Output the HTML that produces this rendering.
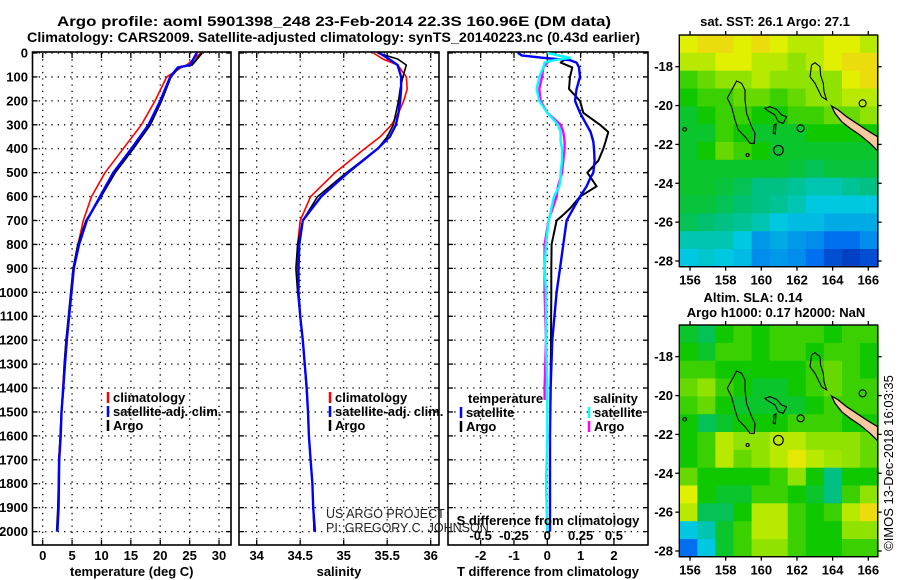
<!DOCTYPE html>
<html><head><meta charset="utf-8">
<style>
html,body{margin:0;padding:0;background:#fff;}
svg{display:block;font-family:"Liberation Sans",sans-serif;}
</style></head>
<body>
<svg id="fig" width="900" height="580" viewBox="0 0 900 580" xmlns="http://www.w3.org/2000/svg"></svg>
<script>
// ---------- data ----------
const depthTicks=[0,100,200,300,400,500,600,700,800,900,1000,1100,1200,1300,1400,1500,1600,1700,1800,1900,2000];
const tempTicks=[0,5,10,15,20,25,30];
const salTicks=[34,34.5,35,35.5,36];
const tdiffTicks=[-2,-1,0,1,2];
const sdiffTicks=[-0.5,-0.25,0,0.25,0.5];
const sdiffTickLabels=["-0.5","-0.25","0","0.25","0.5"];

const tDepth=[0,50,60,100,200,300,400,500,600,700,800,900,1000,1100,1200,1300,1400,1500,1600,1700,1800,1900,2000];
const tClim=[26.9,24.5,23.6,21.1,19.1,16.8,13.7,10.6,8.3,6.9,6.0,5.2,4.8,4.4,4.0,3.7,3.4,3.2,3.0,2.7,2.7,2.6,2.5];
const tSat=[26.2,25.1,23.0,21.7,20.0,18.0,15.1,12.0,9.75,7.5,6.2,5.3,4.9,4.5,4.1,3.8,3.5,3.2,3.06,2.8,2.75,2.7,2.5];
const tArgo=[27.1,25.4,23.2,21.8,20.2,18.3,15.4,12.3,9.9,7.4,6.0,5.2,4.8,4.4,4.0,3.7,3.5,3.2,3.0,2.8,2.7,2.6,2.4];

const sDepth=[0,25,50,100,150,200,250,300,350,400,500,600,700,800,900,1000,1100,1200,1400,1500,1600,1700,1800,1900,2000];
const sClim=[35.34,35.45,35.62,35.72,35.73,35.69,35.63,35.55,35.42,35.24,34.90,34.62,34.50,34.47,34.47,34.48,34.50,34.53,34.575,34.59,34.60,34.62,34.64,34.65,34.66];
const sSat=[35.41,35.52,35.62,35.66,35.66,35.65,35.63,35.60,35.53,35.39,35.05,34.74,34.53,34.49,34.48,34.48,34.50,34.53,34.575,34.59,34.60,34.62,34.64,34.65,34.67];
const sArgo=[35.39,35.62,35.72,35.68,35.65,35.63,35.60,35.57,35.50,35.39,35.03,34.70,34.53,34.47,34.45,34.47,34.50,34.53,34.57,34.59,34.60,34.62,34.64,34.65,34.66];

const dDepth=[0,10,20,30,40,60,100,150,200,250,300,330,370,400,450,500,520,557,600,650,680,700,800,900,1000,1200,1400,1600,1800,2000];
const tdSat=[-0.87,-0.77,-0.13,0.68,0.88,0.95,0.98,0.88,0.83,0.98,1.18,1.30,1.38,1.40,1.42,1.38,1.30,1.18,0.98,0.78,0.66,0.58,0.48,0.38,0.28,0.15,0.10,0.08,0.08,0.08];
const sdSat=[0.00,0.08,0.17,0.05,-0.02,-0.03,-0.06,-0.08,-0.06,0.00,0.08,0.10,0.10,0.11,0.11,0.10,0.10,0.09,0.05,0.03,0.02,0.01,-0.01,-0.02,-0.01,-0.01,0.00,0.00,-0.01,0.00];
const dDepthArgo=[30,40,60,100,150,200,250,300,330,370,400,450,500,520,557,600,650,680,700,800,900,1000,1200,1400,1450];
const tdArgo=[0.50,0.40,0.75,0.68,0.65,0.98,1.08,1.58,1.83,1.75,1.68,1.53,1.20,1.30,1.48,0.98,0.68,0.45,0.28,0.13,0.12,0.12,0.11,0.10,0.10];
const sdArgo=[0.03,0.00,-0.03,-0.04,-0.06,-0.05,0.00,0.10,0.12,0.13,0.13,0.12,0.11,0.10,0.08,0.07,0.04,0.02,0.01,-0.02,-0.02,-0.02,-0.01,-0.02,-0.02];

const latTicks=[-18,-20,-22,-24,-26,-28];
const lonTicks=[156,158,160,162,164,166];
const sstGrid=[
[0.80,0.85,0.85,0.80,0.85,0.80,0.75,0.75,0.80,0.80,0.75],
[0.75,0.75,0.80,0.80,0.75,0.75,0.70,0.75,0.80,0.85,0.85],
[0.60,0.65,0.70,0.70,0.75,0.70,0.70,0.70,0.70,0.80,0.85],
[0.55,0.60,0.60,0.65,0.65,0.60,0.65,0.70,0.70,0.75,0.75],
[0.50,0.55,0.60,0.60,0.55,0.55,0.60,0.60,0.65,0.65,0.70],
[0.50,0.50,0.60,0.55,0.50,0.50,0.50,0.55,0.55,0.55,0.55],
[0.50,0.55,0.65,0.60,0.55,0.50,0.50,0.50,0.50,0.50,0.50],
[0.50,0.50,0.50,0.50,0.50,0.50,0.48,0.45,0.48,0.48,0.48],
[0.50,0.50,0.48,0.45,0.40,0.40,0.38,0.35,0.35,0.38,0.40],
[0.48,0.48,0.45,0.42,0.40,0.38,0.35,0.30,0.30,0.30,0.30],
[0.45,0.42,0.40,0.38,0.35,0.30,0.28,0.28,0.25,0.25,0.25],
[0.35,0.35,0.35,0.30,0.22,0.25,0.22,0.20,0.15,0.15,0.20],
[0.30,0.32,0.30,0.28,0.20,0.22,0.20,0.15,0.08,0.05,0.08]];
const slaGrid=[
[0.50,0.45,0.55,0.60,0.55,0.60,0.60,0.60,0.55,0.60,0.60],
[0.55,0.50,0.60,0.60,0.55,0.60,0.60,0.55,0.60,0.60,0.55],
[0.60,0.60,0.55,0.55,0.55,0.55,0.55,0.60,0.65,0.60,0.55],
[0.65,0.70,0.60,0.55,0.50,0.50,0.55,0.60,0.65,0.60,0.60],
[0.60,0.65,0.55,0.50,0.50,0.50,0.50,0.55,0.60,0.60,0.60],
[0.55,0.45,0.50,0.55,0.55,0.55,0.60,0.60,0.60,0.55,0.55],
[0.55,0.60,0.75,0.70,0.70,0.75,0.75,0.70,0.70,0.70,0.65],
[0.55,0.60,0.75,0.65,0.70,0.75,0.82,0.75,0.72,0.70,0.65],
[0.65,0.55,0.55,0.55,0.55,0.60,0.70,0.55,0.40,0.55,0.55],
[0.80,0.55,0.50,0.50,0.60,0.60,0.55,0.50,0.40,0.60,0.70],
[0.75,0.45,0.45,0.55,0.75,0.75,0.60,0.55,0.60,0.75,0.85],
[0.30,0.35,0.50,0.60,0.75,0.75,0.60,0.55,0.55,0.70,0.70],
[0.15,0.30,0.50,0.60,0.70,0.70,0.60,0.55,0.55,0.60,0.60]];

// ---------- helpers ----------
const NS="http://www.w3.org/2000/svg";
const svg=document.getElementById('fig');
function mk(tag,attrs,parent){const e=document.createElementNS(NS,tag);for(const k in attrs)e.setAttribute(k,attrs[k]);(parent||svg).appendChild(e);return e;}
function txt(s,x,y,opts,parent){const t=mk('text',Object.assign({x:x,y:y,'font-size':13,'font-weight':'bold',fill:'#000'},opts||{}),parent);t.textContent=s;return t;}

const PT=53, PB=545, Y0=53, YS=0.2393;
const yD=d=>Y0+d*YS;
const P1={l:32.5,r:231}, P2={l:239,r:439}, P3={l:448,r:648};
const xT=v=>42.7+v*5.877;
const xS=v=>256.7+(v-34)*87;
const xTD=v=>547.3+v*33.33;
const xSD=v=>547.3+v*133.33;

// ---------- titles ----------
let t1=txt("Argo profile: aoml 5901398_248 23-Feb-2014 22.3S 160.96E (DM data)",57,26,{'font-size':14,textLength:554,lengthAdjust:'spacingAndGlyphs'});


let t2=txt("Climatology: CARS2009. Satellite-adjusted climatology: synTS_20140223.nc (0.43d earlier)",27,42,{'font-size':14,textLength:613,lengthAdjust:'spacingAndGlyphs'});



// ---------- panels ----------
function panel(P,name,xticks,xf,xlabels,xtitle,showYLabels){
  const g=mk('g',{});
  
  
  depthTicks.forEach(d=>{
    const y=yD(d);
    mk('line',{x1:P.l,x2:P.r,y1:y,y2:y,stroke:'#000','stroke-width':1.3,'stroke-dasharray':'1.3 5'},g);
    mk('line',{x1:P.l,x2:P.l+5,y1:y,y2:y,stroke:'#000','stroke-width':1.3},g);
    mk('line',{x1:P.r-5,x2:P.r,y1:y,y2:y,stroke:'#000','stroke-width':1.3},g);
    if(showYLabels){const lb=txt(String(d),28,y+4.5,{'text-anchor':'end'},g);
      
      }
  });
  xticks.forEach((v,i)=>{
    const x=xf(v);
    mk('line',{x1:x,x2:x,y1:PT,y2:PB,stroke:'#000','stroke-width':1.3,'stroke-dasharray':'1.3 5'},g);
    mk('line',{x1:x,x2:x,y1:PT,y2:PT+5,stroke:'#000','stroke-width':1.3},g);
    mk('line',{x1:x,x2:x,y1:PB-5,y2:PB,stroke:'#000','stroke-width':1.3},g);
    const lb=txt(xlabels[i],x,560,{'text-anchor':'middle'},g);
    
    
  });
  mk('rect',{x:P.l,y:PT-1,width:P.r-P.l,height:PB-PT+1,fill:'none',stroke:'#000','stroke-width':1.6},g);
  const at=txt(xtitle,(P.l+P.r)/2,576,{'text-anchor':'middle'},g);
  
  
  return g;
}
panel(P1,'temperature-panel',tempTicks,xT,tempTicks.map(String),'temperature (deg C)',true);
panel(P2,'salinity-panel',salTicks,xS,salTicks.map(String),'salinity',false);
panel(P3,'difference-panel',tdiffTicks,xTD,tdiffTicks.map(String),'T difference from climatology',false);

function line(xs,ds,xf,color,w,name){
  const pts=xs.map((v,i)=>xf(v).toFixed(1)+','+yD(ds[i]).toFixed(1)).join(' ');
  const p=mk('polyline',{points:pts,fill:'none',stroke:color,'stroke-width':w,'stroke-linejoin':'round'});
  
  
}
line(tClim,tDepth,xT,'#f00',1.6,'temp-climatology-line');
line(tArgo,tDepth,xT,'#000',2,'temp-argo-line');
line(tSat,tDepth,xT,'#00f',2.4,'temp-satellite-line');
line(sClim,sDepth,xS,'#f00',1.6,'sal-climatology-line');
line(sArgo,sDepth,xS,'#000',1.6,'sal-argo-line');
line(sSat,sDepth,xS,'#00f',2.4,'sal-satellite-line');
line(tdArgo,dDepthArgo,xTD,'#000',2,'tdiff-argo-line');
line(tdSat,dDepth,xTD,'#00f',2.4,'tdiff-satellite-line');
line(sdArgo,dDepthArgo,xSD,'#f0f',2.4,'sdiff-argo-line');
line(sdSat,dDepth,xSD,'#0ff',2.4,'sdiff-satellite-line');

// S diff labels inside panel 3
let sdt=txt("S difference from climatology",548,525,{'text-anchor':'middle'});


sdiffTicks.forEach((v,i)=>{const l=txt(sdiffTickLabels[i],xSD(v),540,{'text-anchor':'middle'});
  
  });

// legends
function legend(x,y,items,name){
  const g=mk('g',{});
  
  
  items.forEach((it,i)=>{
    const yy=y+i*14;
    mk('line',{x1:x,x2:x,y1:yy-10,y2:yy+1,stroke:it[1],'stroke-width':2.5},g);
    txt(it[0],x+5,yy,{},g);
  });
}
legend(108,402,[['climatology','#f00'],['satellite-adj. clim.','#00f'],['Argo','#000']],'temp-legend');
legend(330,402,[['climatology','#f00'],['satellite-adj. clim.','#00f'],['Argo','#000']],'sal-legend');
let lt=txt("temperature",468,403);
let ls=txt("salinity",593,403);
legend(461,417,[['satellite','#00f'],['Argo','#000']],'diff-legend-temperature');
legend(589,417,[['satellite','#0ff'],['Argo','#f0f']],'diff-legend-salinity');

let pr1=txt("US ARGO PROJECT",326,518,{'font-weight':'normal','font-size':12.5,fill:'#222'});

let pr2=txt("PI: GREGORY C. JOHNSON",326,532,{'font-weight':'normal','font-size':12.5,fill:'#222'});


// ---------- maps ----------
const cstops=[[0,[0,40,176]],[0.15,[0,112,240]],[0.3,[0,200,224]],[0.42,[0,192,112]],[0.55,[16,200,0]],[0.68,[128,224,0]],[0.8,[224,240,0]],[0.92,[248,192,32]],[1,[240,144,0]]];
function cmap(v){for(let i=1;i<cstops.length;i++){if(v<=cstops[i][0]){const a=cstops[i-1],b=cstops[i],f=(v-a[0])/(b[0]-a[0]);return 'rgb('+a[1].map((c,k)=>Math.round(c+(b[1][k]-c)*f)).join(',')+')';}}return 'rgb(240,144,0)';}
function drawMap(top,grid,name){
  const L=679.3,R=877.7,T=top,B=top+231.7;
  const lonX=v=>690+(v-156)*17.83;
  const latY=v=>top+31.7+(-18-v)*19.43;
  const g=mk('g',{});
  
  
  const rows=grid.length,cols=grid[0].length;
  const lon0=155.4,lon1=166.55,lat0=-16.37,lat1=-28.3;
  for(let r=0;r<rows;r++)for(let c=0;c<cols;c++){
    const xa=lonX(lon0+(lon1-lon0)*c/cols), xb=lonX(lon0+(lon1-lon0)*(c+1)/cols);
    const ya=latY(lat0+(lat1-lat0)*r/rows), yb=latY(lat0+(lat1-lat0)*(r+1)/rows);
    const cell=mk('rect',{x:xa.toFixed(1),y:ya.toFixed(1),width:(xb-xa+0.6).toFixed(1),height:(yb-ya+0.6).toFixed(1),fill:cmap(grid[r][c])},g);
    
    
  }
  const P=(arr)=>arr.map(p=>(L+(p[0]-88)/3).toFixed(1)+','+(T+(p[1]-105)/3).toFixed(1)).join(' ');
  const cg=mk('g',{fill:'none',stroke:'#000','stroke-width':1.1},g);
  
  
  mk('polygon',{points:P([[260,243],[275,250],[285,270],[285,300],[290,340],[305,380],[315,400],[313,430],[300,430],[285,410],[265,390],[255,360],[245,320],[232,295],[240,280],[250,262]])},cg);
  mk('polygon',{points:P([[485,195],[495,188],[510,200],[512,225],[520,250],[522,275],[530,300],[515,290],[505,270],[495,250],[480,230]])},cg);
  mk('polygon',{points:P([[345,325],[360,320],[380,328],[395,345],[410,350],[400,370],[385,365],[375,345],[350,330]])},cg);
  mk('polygon',{points:P([[372,375],[378,372],[376,402],[370,400]])},cg);
  mk('circle',{cx:L+(452-88)/3,cy:T+(385-105)/3,r:3.5},cg);
  mk('circle',{cx:L+(638-88)/3,cy:T+(310-105)/3,r:3.5},cg);
  mk('circle',{cx:L+(104-88)/3,cy:T+(388-105)/3,r:1.8},cg);
  mk('circle',{cx:L+(293-88)/3,cy:T+(465-105)/3,r:1.5},cg);
  const nc=mk('polygon',{points:P([[545,318],[565,330],[590,350],[620,370],[650,390],[683,410],[683,452],[660,430],[630,405],[600,385],[575,365],[555,340]]),fill:'#f8c8a0',stroke:'#000','stroke-width':1.3},g);
  
  
  const ac=mk('circle',{cx:lonX(160.96),cy:latY(-22.3),r:4.8,fill:'none',stroke:'#000','stroke-width':1.2},g);
  
  
  mk('rect',{x:L,y:T,width:R-L,height:B-T,fill:'none',stroke:'#000','stroke-width':1.4},g);
  latTicks.forEach(v=>{const y=latY(v);
    mk('line',{x1:L-4,x2:L,y1:y,y2:y,stroke:'#000','stroke-width':1.3},g);
    mk('line',{x1:R,x2:R+4,y1:y,y2:y,stroke:'#000','stroke-width':1.3},g);
    const l=txt(String(v),673,y+4.5,{'text-anchor':'end'},g);
    
    });
  lonTicks.forEach(v=>{const x=lonX(v);
    mk('line',{x1:x,x2:x,y1:T-4,y2:T,stroke:'#000','stroke-width':1.3},g);
    mk('line',{x1:x,x2:x,y1:B,y2:B+4,stroke:'#000','stroke-width':1.3},g);
    const l=txt(String(v),x,B+18,{'text-anchor':'middle'},g);
    
    });
}
drawMap(35,sstGrid,'sst-map');
drawMap(325,slaGrid,'sla-map');
let m1=txt("sat. SST: 26.1 Argo: 27.1",775,26,{'text-anchor':'middle'});

let m2=txt("Altim. SLA: 0.14",753,302,{'text-anchor':'middle'});

let m3=txt("Argo h1000: 0.17 h2000: NaN",776,317,{'text-anchor':'middle'});

let cr=txt("©IMOS 13-Dec-2018 16:03:35",0,0,{'font-weight':'normal','font-size':13,'text-anchor':'middle',transform:'translate(893,463) rotate(-90)'});

</script>
</body></html>
